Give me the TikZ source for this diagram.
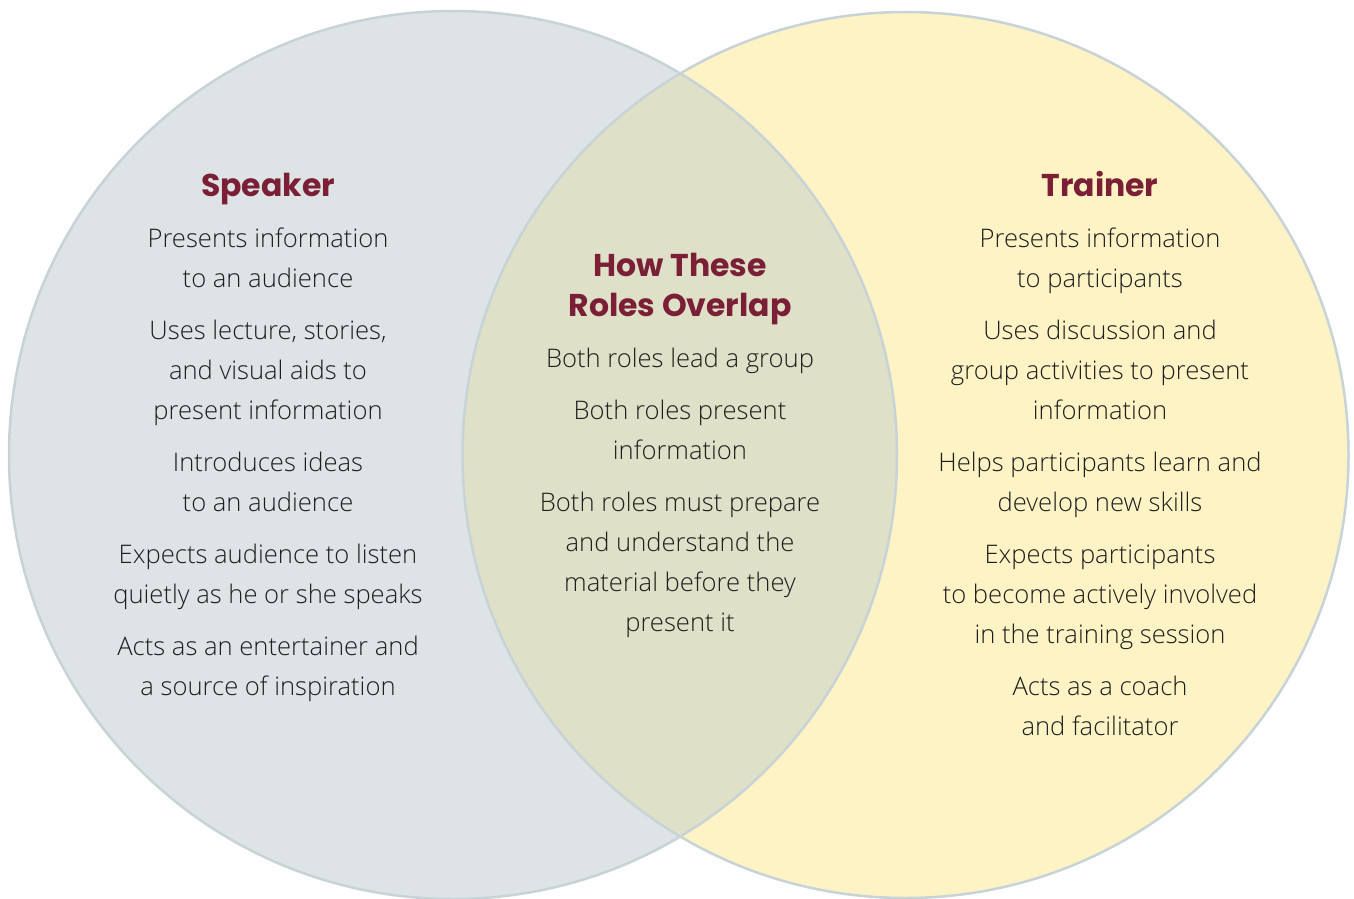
\documentclass[tikz,border=0pt]{standalone}
\usepackage{fontspec}
\setmainfont{Open Sans}[UprightFont=* Light]
\newfontfamily\headfont{Poppins}[UprightFont=* Bold]
\definecolor{leftfill}{HTML}{DEE3E6}
\definecolor{rightfill}{HTML}{FEF3C5}
\definecolor{overfill}{HTML}{DEE0C7}
\definecolor{rimcol}{HTML}{C8D3D7}
\definecolor{headcol}{HTML}{7A1F35}
\definecolor{bodycol}{HTML}{1E1E1E}
\tikzset{
  head/.style={anchor=base, inner sep=0pt, text=headcol, font=\headfont\fontsize{31.5}{34}\selectfont},
  body/.style={anchor=base, inner sep=0pt, text=bodycol, font=\fontsize{25.6}{40}\selectfont},
  rim/.style={draw=rimcol, line width=2.5pt}
}
\begin{document}
\begin{tikzpicture}[x=1pt,y=-1pt]
\useasboundingbox (0,0) rectangle (1354,899);
\fill[white] (0,0) rectangle (1354,899);
% circles
\fill[leftfill] (453,455) circle[radius=444];
\fill[rightfill] (905.5,455) circle[radius=443];
\begin{scope}
  \clip (453,455) circle[radius=444];
  \fill[overfill] (905.5,455) circle[radius=443];
\end{scope}
\draw[rim] (453,455) circle[radius=444];
\draw[rim] (905.5,455) circle[radius=443];
% headings
\node[head] (hs) at (268,196.5) {Speaker};
\node[head] (ht) at (1100,196.5) {Trainer};
\node[head] (ho1) at (680,276.5) {How These};
\node[head] (ho2) at (680,316.5) {Roles Overlap};
% left column
\foreach \yy/\tt [count=\i] in {238/Presents information, 278/to an audience, 330/{Uses lecture, stories,}, 370/and visual aids to, 410/present information, 462/Introduces ideas, 502/to an audience, 554/Expects audience to listen, 594/quietly as he or she speaks, 646/Acts as an entertainer and, 686/a source of inspiration}
  \node[body] (l\i) at (268,\yy+9) {\tt};
% middle column
\foreach \yy/\tt [count=\i] in {358/Both roles lead a group, 410/Both roles present, 450/information, 502/Both roles must prepare, 542/and understand the, 582/material before they, 622/present it}
  \node[body] (m\i) at (680,\yy+9) {\tt};
% right column
\foreach \yy/\tt [count=\i] in {238/Presents information, 278/to participants, 330/Uses discussion and, 370/group activities to present, 410/information, 462/Helps participants learn and, 502/develop new skills, 554/Expects participants, 594/to become actively involved, 634/in the training session, 686/Acts as a coach, 726/and facilitator}
  \node[body] (r\i) at (1100,\yy+9) {\tt};
\end{tikzpicture}
\end{document}
